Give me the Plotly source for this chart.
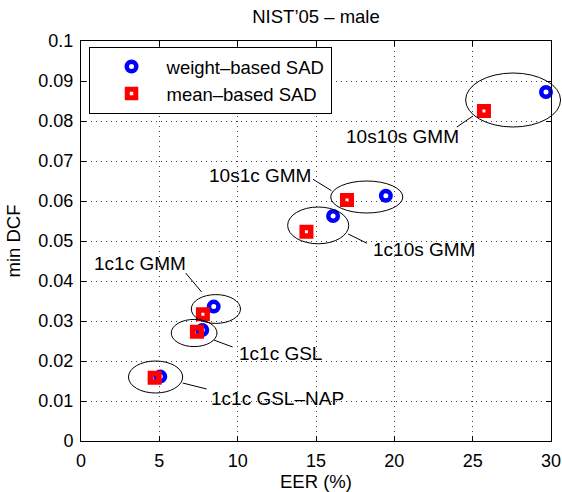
import plotly.graph_objects as go

# ---- data ----
systems = ["10s10s GMM", "10s1c GMM", "1c10s GMM", "1c1c GMM", "1c1c GSL", "1c1c GSL–NAP"]
weight_eer = [29.68, 19.46, 16.09, 8.47, 7.74, 5.06]
weight_dcf = [0.08725, 0.0613, 0.05625, 0.0336, 0.02775, 0.0161]
mean_eer = [25.72, 16.98, 14.39, 7.78, 7.40, 4.70]
mean_dcf = [0.0825, 0.06025, 0.0523, 0.0317, 0.0273, 0.0158]

x_ticks = [0, 5, 10, 15, 20, 25, 30]
y_ticks = [0, 0.01, 0.02, 0.03, 0.04, 0.05, 0.06, 0.07, 0.08, 0.09, 0.1]

# ---- annotation layout (ellipse centre/radii, label anchor, leader line) in data units ----
ellipses = [  # cx, cy, rx, ry
    (27.58, 0.08525, 3.03, 0.00675),
    (18.24, 0.0610, 2.30, 0.0040),
    (15.14, 0.0539, 1.95, 0.0046),
    (8.61, 0.0330, 1.57, 0.0036),
    (7.22, 0.0270, 1.46, 0.0034),
    (4.76, 0.0160, 1.73, 0.0040),
]
label_pos = [(16.77, 0.07625), (8.02, 0.0665), (18.5, 0.048), (0.73, 0.0445), (9.94, 0.022), (8.15, 0.01075)]
leaders = [
    ((23.99, 0.0785), (25.02, 0.08125)),
    ((14.81, 0.06543), (15.99, 0.06258)),
    ((17.05, 0.05175), (18.26, 0.04943)),
    ((6.68, 0.0420), (7.70, 0.03725)),
    ((8.47, 0.02525), (9.68, 0.0235)),
    ((6.49, 0.0145), (8.02, 0.0130)),
]

XR = [0, 30]
YR = [0, 0.1]
FONT = "Liberation Sans, Arial, Helvetica, sans-serif"

fig = go.Figure()
fig.add_trace(go.Scatter(
    x=weight_eer, y=weight_dcf, mode="markers", name="weight–based SAD",
    marker=dict(symbol="circle-open", size=9.5, color="#0000ff", line=dict(width=4.5, color="#0000ff")),
    cliponaxis=False,
))
fig.add_trace(go.Scatter(
    x=mean_eer, y=mean_dcf, mode="markers", name="mean–based SAD",
    marker=dict(symbol="square-open", size=8.5, color="#ff0000", line=dict(width=5.5, color="#ff0000")),
    cliponaxis=False,
))

def px(x):
    return (x - XR[0]) / (XR[1] - XR[0])

def py(y):
    return (y - YR[0]) / (YR[1] - YR[0])

shapes = []
for cx, cy, rx, ry in ellipses:
    shapes.append(dict(type="circle", xref="paper", yref="paper",
                       x0=px(cx - rx), x1=px(cx + rx), y0=py(cy - ry), y1=py(cy + ry),
                       line=dict(color="black", width=1), layer="above"))
for (x0, y0), (x1, y1) in leaders:
    shapes.append(dict(type="line", xref="x", yref="y", x0=x0, y0=y0, x1=x1, y1=y1,
                       line=dict(color="black", width=1)))

annotations = []
for name, (lx, ly) in zip(systems, label_pos):
    annotations.append(dict(x=lx, y=ly, xref="x", yref="y", text=name, showarrow=False,
                            xanchor="left", yanchor="middle",
                            font=dict(family=FONT, size=19, color="black")))

axis_common = dict(
    showline=True, linecolor="black", linewidth=1, mirror="ticks",
    ticks="inside", ticklen=5, tickcolor="black", tickwidth=1,
    showgrid=True, gridcolor="#444444", gridwidth=1, griddash="1px,4px",
    zeroline=False, tickfont=dict(family=FONT, size=18, color="black"),
    automargin=False,
)

fig.update_layout(
    width=562, height=492,
    margin=dict(l=81, r=11, t=41, b=51),
    paper_bgcolor="white", plot_bgcolor="white",
    font=dict(family=FONT, color="black"),
    title=dict(text="NIST’05 – male", x=0.5, xref="paper", xanchor="center",
               y=1 - 17 / 492, yref="container", yanchor="middle",
               font=dict(family=FONT, size=18.5, color="black")),
    xaxis=dict(range=XR, tickvals=x_ticks, ticktext=[str(v) for v in x_ticks],
               title=dict(text="EER (%)", font=dict(family=FONT, size=18.5), standoff=0),
               ticklabelstandoff=3, **axis_common),
    yaxis=dict(range=YR, tickvals=y_ticks, ticktext=[("%g" % v) for v in y_ticks],
               title=dict(text="min DCF", font=dict(family=FONT, size=18.5), standoff=12),
               ticklabelstandoff=3, **axis_common),
    legend=dict(x=0.016, y=0.985, xanchor="left", yanchor="top",
                bordercolor="black", borderwidth=1, bgcolor="white",
                font=dict(family=FONT, size=18.5, color="black"),
                itemwidth=60, indentation=7, tracegroupgap=0),
    shapes=shapes, annotations=annotations,
    showlegend=True,
)

fig.write_html("out.html", config={"displayModeBar": False},
               post_script="document.body.style.margin='0';document.body.style.padding='0';")
